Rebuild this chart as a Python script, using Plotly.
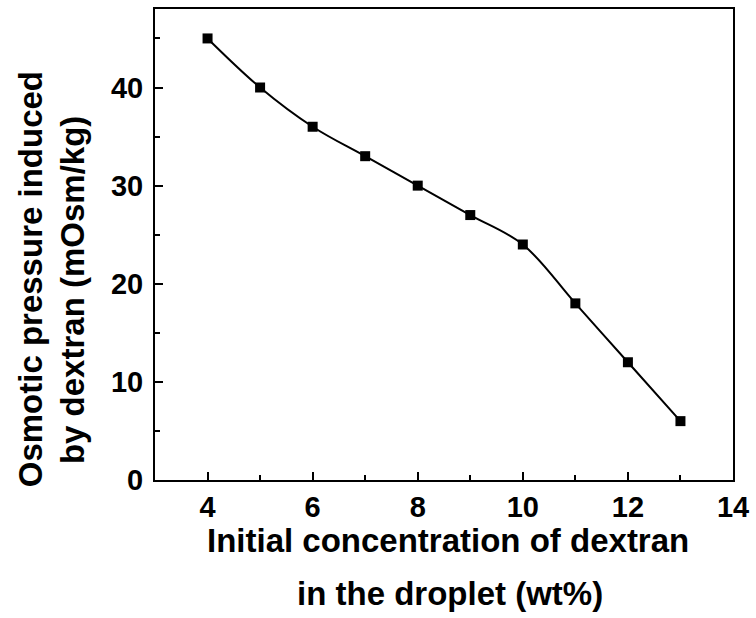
import plotly.graph_objects as go

conc = [4, 5, 6, 7, 8, 9, 10, 11, 12, 13]
osm = [45, 40, 36, 33, 30, 27, 24, 18, 12, 6]

x_ticks = [4, 6, 8, 10, 12, 14]
y_ticks = [0, 10, 20, 30, 40]

W, H = 756, 618
L, R, T, B = 155, 21, 7, 138
pw, ph = W - L - R, H - T - B

def px(x):
    return (x - L) / pw

def py(y):
    return (H - B - y) / ph

font = "Liberation Sans, Arial, sans-serif"

fig = go.Figure()
fig.add_trace(go.Scatter(
    x=conc, y=osm, mode="lines+markers",
    line=dict(color="black", width=2, shape="spline", smoothing=1.0),
    marker=dict(symbol="square", size=10, color="black"),
    showlegend=False,
))

axis_common = dict(
    showgrid=False, zeroline=False, showline=True, linecolor="black", linewidth=2,
    mirror=True, ticks="inside", ticklen=8, tickwidth=2, tickcolor="black",
    tickfont=dict(family=font, size=29, color="black", weight="bold"),
)

fig.update_xaxes(range=[3, 14], tickvals=x_ticks, ticktext=[str(v) for v in x_ticks],
                 minor=dict(ticks="inside", ticklen=5, tickwidth=2, tickcolor="black", dtick=1, tick0=3),
                 **axis_common)
fig.update_yaxes(range=[0, 48], tickvals=y_ticks, ticktext=[str(v) for v in y_ticks],
                 ticklabelstandoff=4,
                 minor=dict(ticks="inside", ticklen=5, tickwidth=2, tickcolor="black", dtick=5, tick0=0),
                 **axis_common)

title_font = dict(family=font, size=33, color="black", weight="bold")
annots = [
    dict(text="Initial concentration of dextran", x=px(449), y=py(541)),
    dict(text="in the droplet (wt%)", x=px(451), y=py(594)),
    dict(text="Osmotic pressure induced", x=px(30), y=py(278), textangle=-90),
    dict(text="by dextran (mOsm/kg)", x=px(73), y=py(289), textangle=-90),
]
for a in annots:
    fig.add_annotation(xref="paper", yref="paper", showarrow=False,
                       xanchor="center", yanchor="middle", font=title_font, **a)

fig.update_layout(
    width=W, height=H,
    margin=dict(l=L, r=R, t=T, b=B),
    plot_bgcolor="white", paper_bgcolor="white",
)

fig.write_html("out.html")
